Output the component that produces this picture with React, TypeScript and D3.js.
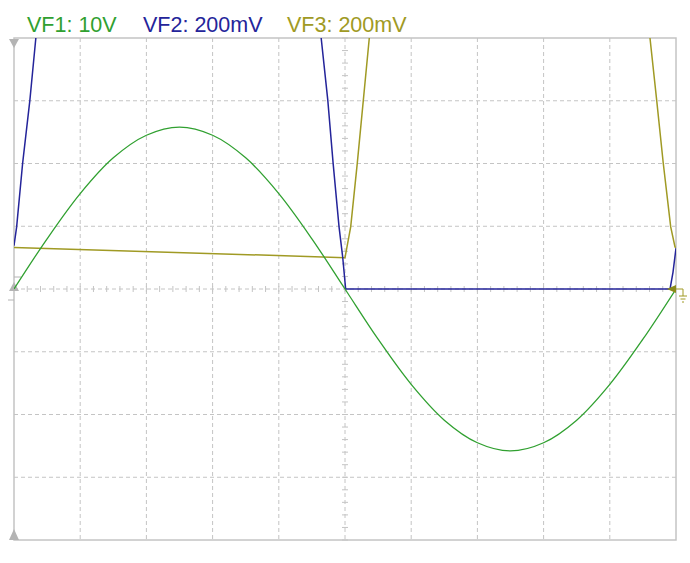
import React from "react";
import * as d3 from "d3";

// Time axis in divisions (0..10)
const greenT = [0, 0.5, 1, 1.5, 2, 2.5, 3, 3.5, 4, 4.5, 5, 5.5, 6, 6.5, 7, 7.5, 8, 8.5, 9, 9.5, 10];
// VF1 values in volts (10 V/div)
const greenV = [0, 8.0, 15.2, 20.9, 24.5, 25.8, 24.5, 20.9, 15.2, 8.0, 0, -8.0, -15.2, -20.9, -24.5, -25.8, -24.5, -20.9, -15.2, -8.0, 0];

// VF2 values in mV (200 mV/div)
const blueT = [0, 0.04, 0.13, 0.24, 0.33, 0.6, 2.5, 4.4, 4.64, 4.74, 4.82, 4.91, 4.965, 5.01, 7.5, 9.91, 9.955, 10];
const blueV = [138, 198, 400, 602, 800, 1300, 1800, 1300, 800, 602, 402, 198, 102, 0, 0, 0, 54, 130];

// VF3 values in mV (200 mV/div)
const oliveT = [0, 5.0, 5.086, 5.186, 5.277, 5.367, 5.6, 7.5, 9.45, 9.607, 9.708, 9.808, 9.92, 9.985, 10];
const oliveV = [132, 100, 198, 402, 602, 800, 1320, 1800, 1100, 800, 602, 400, 198, 134, 132];

const legendLabels = ["VF1: 10V", "VF2: 200mV", "VF3: 200mV"];
const legendColors = ["#30a030", "#24249a", "#a09a24"];

const W = 690, H = 563;
const L = 14, R = 676, T = 38, B = 540;
const GRID = "#c4c4c4";

export default function App() {
  const x = d3.scaleLinear().domain([0, 10]).range([L, R]);
  const yV = d3.scaleLinear().domain([-40, 40]).range([B, T]);
  const ymV = d3.scaleLinear().domain([-800, 800]).range([B, T]);

  const greenPts = greenT.map((t, i) => [t, greenV[i]] as [number, number]);
  const bluePts = blueT.map((t, i) => [t, blueV[i]] as [number, number]);
  const olivePts = oliveT.map((t, i) => [t, oliveV[i]] as [number, number]);

  const greenLine = d3.line<[number, number]>().x(d => x(d[0])).y(d => yV(d[1])).curve(d3.curveCatmullRom.alpha(0.5));
  const mvLine = d3.line<[number, number]>().x(d => x(d[0])).y(d => ymV(d[1]));

  const cx = x(5), cy = ymV(0);
  const vGrid = d3.range(1, 10).filter(i => i !== 5);
  const hGrid = d3.range(-3, 4).filter(j => j !== 0);
  const minorX = d3.range(0, 50).map(i => i * 0.2).filter(v => v > 0);
  const minorY = d3.range(-20, 21).map(i => i * 0.2 * 200).filter(v => v !== 0);

  const legendX = [27, 143, 287];

  return (
    <svg width={W} height={H} style={{ position: "absolute", left: 0, top: 0, background: "#fff" }}>
      <defs>
        <clipPath id="plot">
          <rect x={L} y={T} width={R - L} height={B - T} />
        </clipPath>
      </defs>
      {legendLabels.map((s, i) => (
        <text key={s} x={legendX[i]} y={31.5} fill={legendColors[i]} fontFamily="'Liberation Sans', Arial, sans-serif" fontSize={21.5}>{s}</text>
      ))}
      {vGrid.map(i => (
        <line key={"v" + i} x1={x(i)} x2={x(i)} y1={T} y2={B} stroke={GRID} strokeDasharray="4,3" />
      ))}
      {hGrid.map(j => (
        <line key={"h" + j} x1={L} x2={R} y1={ymV(j * 200)} y2={ymV(j * 200)} stroke={GRID} strokeDasharray="4,3" />
      ))}
      <line x1={cx} x2={cx} y1={T} y2={B} stroke={GRID} strokeDasharray="4,3" />
      <line x1={L} x2={R} y1={cy} y2={cy} stroke={GRID} strokeDasharray="4,3" />
      {minorX.map(v => (
        <line key={"mx" + v} x1={x(v)} x2={x(v)} y1={cy - 3} y2={cy + 3} stroke={GRID} />
      ))}
      {minorY.map(v => (
        <line key={"my" + v} x1={cx - 3} x2={cx + 3} y1={ymV(v)} y2={ymV(v)} stroke={GRID} />
      ))}
      <rect x={L} y={T} width={R - L} height={B - T} fill="none" stroke={GRID} strokeWidth={1.5} />
      {/* markers */}
      <path d={`M${L - 5},${T + 1}L${L + 5},${T + 1}L${L},${T + 10}Z`} fill="#b4b4b4" />
      <path d={`M${L - 5},${cy + 2}L${L + 5},${cy + 2}L${L},${cy - 7}Z`} fill="#b4b4b4" />
      <path d={`M${L - 5},${B}L${L + 5},${B}L${L},${B - 11}Z`} fill="#b4b4b4" />
      <line x1={L} x2={L + 7} y1={cy - 12} y2={cy - 12} stroke="#b4b4b4" />
      <line x1={L - 6} x2={L} y1={cy + 11} y2={cy + 11} stroke="#b4b4b4" />
      <g clipPath="url(#plot)" fill="none">
        <path d={mvLine(olivePts) || ""} stroke={legendColors[2]} strokeWidth={1.5} />
        <path d={mvLine(bluePts) || ""} stroke={legendColors[1]} strokeWidth={1.5} />
        <path d={greenLine(greenPts) || ""} stroke={legendColors[0]} strokeWidth={1.3} />
      </g>
      {/* ground marker */}
      <path d={`M${R - 9},${cy}L${R},${cy - 4}L${R},${cy + 4}Z`} fill="#8a8a1a" />
      <path d={`M${R},${cy}H${R + 7}V${cy + 7}M${R + 3},${cy + 7}H${R + 11}M${R + 4.5},${cy + 10}H${R + 9.5}M${R + 6},${cy + 13}H${R + 8}`} stroke="#a09a24" fill="none" strokeWidth={1} />
    </svg>
  );
}
